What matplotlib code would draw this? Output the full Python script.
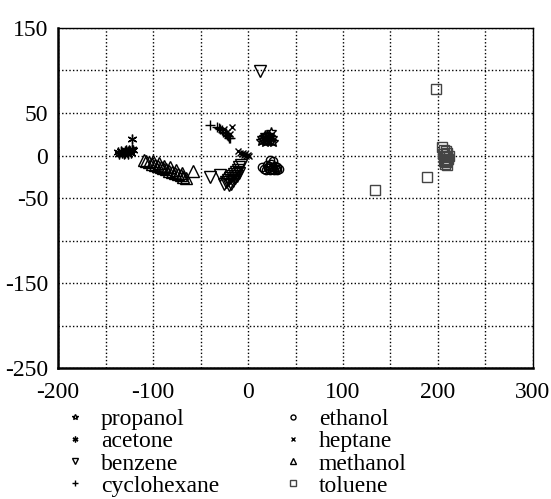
import matplotlib
matplotlib.use('Agg')
import matplotlib.pyplot as plt

# data (approximate)
propanol_x = [14, 16, 18, 20, 22, 24, 26, 15, 17, 19, 21, 23, 25, 18, 20, 22, 24]
propanol_y = [17, 18, 16, 17, 18, 17, 16, 21, 22, 20, 21, 22, 20, 24, 23, 24, 28]

acetone_x = [-137, -136, -134, -133, -131, -130, -129, -128, -127, -126, -125, -124, -123, -122, -121, -122]
acetone_y = [4, 2, 5, 3, 2, 5, 3, 6, 4, 2, 7, 5, 3, 8, 6, 19]

benzene_x = [-40, -30, -25, -23, -21, -19, -17, -15, -13, -11, -9, -7, -20, -18, -16, -14, -12, -10, 13]
benzene_y = [-25, -23, -33, -31, -29, -27, -24, -22, -19, -17, -14, -11, -35, -33, -30, -27, -24, -20, 99]

cyclohexane_x = [-40, -33, -31, -29, -27, -26, -24, -23, -22, -21, -20, -19]
cyclohexane_y = [36, 33, 32, 31, 30, 28, 27, 26, 24, 23, 21, 20]

ethanol_x = [15, 17, 19, 21, 23, 25, 27, 29, 31, 33, 20, 22, 24, 26, 28, 30, 23, 26]
ethanol_y = [-14, -16, -17, -15, -17, -16, -17, -16, -17, -16, -11, -12, -10, -13, -12, -14, -5, -7]

heptane_x = [-17, -25, -22, -19, -11, -8, -6, -4, -2, 0, 1, -5, -3]
heptane_y = [34, 31, 28, 25, 5, 3, 2, 1, 0, 1, 0, 3, 2]

methanol_x = [-110, -107, -104, -101, -98, -95, -92, -89, -86, -83, -80, -77, -74, -71, -68, -65,
              -100, -94, -88, -82, -76, -70, -58]
methanol_y = [-5, -7, -8, -10, -11, -12, -14, -15, -16, -18, -19, -20, -22, -23, -25, -27,
              -6, -9, -12, -14, -17, -20, -18]

toluene_x = [204, 206, 208, 210, 205, 207, 209, 211, 206, 208, 210, 212, 207, 209, 198, 188, 134]
toluene_y = [10, 7, 5, 3, 2, 0, -2, -4, -6, -8, -5, -1, -10, -11, 78, -25, -41]

x_ticks = list(range(-200, 301, 50))
x_labels = ['-200', '', '-100', '', '0', '', '100', '', '200', '', '300']
y_ticks = list(range(-250, 151, 50))
y_labels = ['-250', '', '-150', '', '-50', '0', '50', '', '150']

plt.rcParams['font.family'] = ['Liberation Serif', 'DejaVu Serif']

fig = plt.figure(figsize=(5.51, 4.99), dpi=100)
ax = fig.add_axes([0.1053, 0.2625, 0.862, 0.6814])

series = [
    ('propanol', propanol_x, propanol_y, dict(marker='*', ms=7, mfc='none')),
    ('acetone', acetone_x, acetone_y, dict(marker=(6, 2, 0), ms=7)),
    ('benzene', benzene_x, benzene_y, dict(marker='v', ms=8, mfc='none')),
    ('cyclohexane', cyclohexane_x, cyclohexane_y, dict(marker='+', ms=7)),
    ('ethanol', ethanol_x, ethanol_y, dict(marker='o', ms=6, mfc='none')),
    ('heptane', heptane_x, heptane_y, dict(marker='x', ms=5)),
    ('methanol', methanol_x, methanol_y, dict(marker='^', ms=8, mfc='none')),
    ('toluene', toluene_x, toluene_y, dict(marker='s', ms=7, mfc='none', mec='#444444')),
]

for name, xs, ys, st in series:
    st.setdefault('mec', 'black')
    ax.plot(xs, ys, linestyle='none', color='black', mew=1.0, label=name, **st)

ax.set_xlim(-200, 300)
ax.set_ylim(-250, 150)
ax.set_xticks(x_ticks)
ax.set_xticklabels(x_labels)
ax.set_yticks(y_ticks)
ax.set_yticklabels(y_labels)
ax.tick_params(length=0, labelsize=17)
ax.tick_params(axis='x', pad=10)
ax.tick_params(axis='y', pad=7)
ax.grid(True, linestyle=(0, (1, 1.6)), color='black', linewidth=1.0)
ax.set_axisbelow(True)
for side in ['top', 'right']:
    ax.spines[side].set_linewidth(1.0)
for side in ['left', 'bottom']:
    ax.spines[side].set_linewidth(1.8)

fig.legend(loc='upper left', bbox_to_anchor=(0.093, 0.205), ncol=2, frameon=False,
           fontsize=17, markerscale=0.6, handlelength=1.0, handletextpad=0.6,
           columnspacing=2.62, labelspacing=0.03, borderpad=0)

fig.savefig('out.png', dpi=100)
